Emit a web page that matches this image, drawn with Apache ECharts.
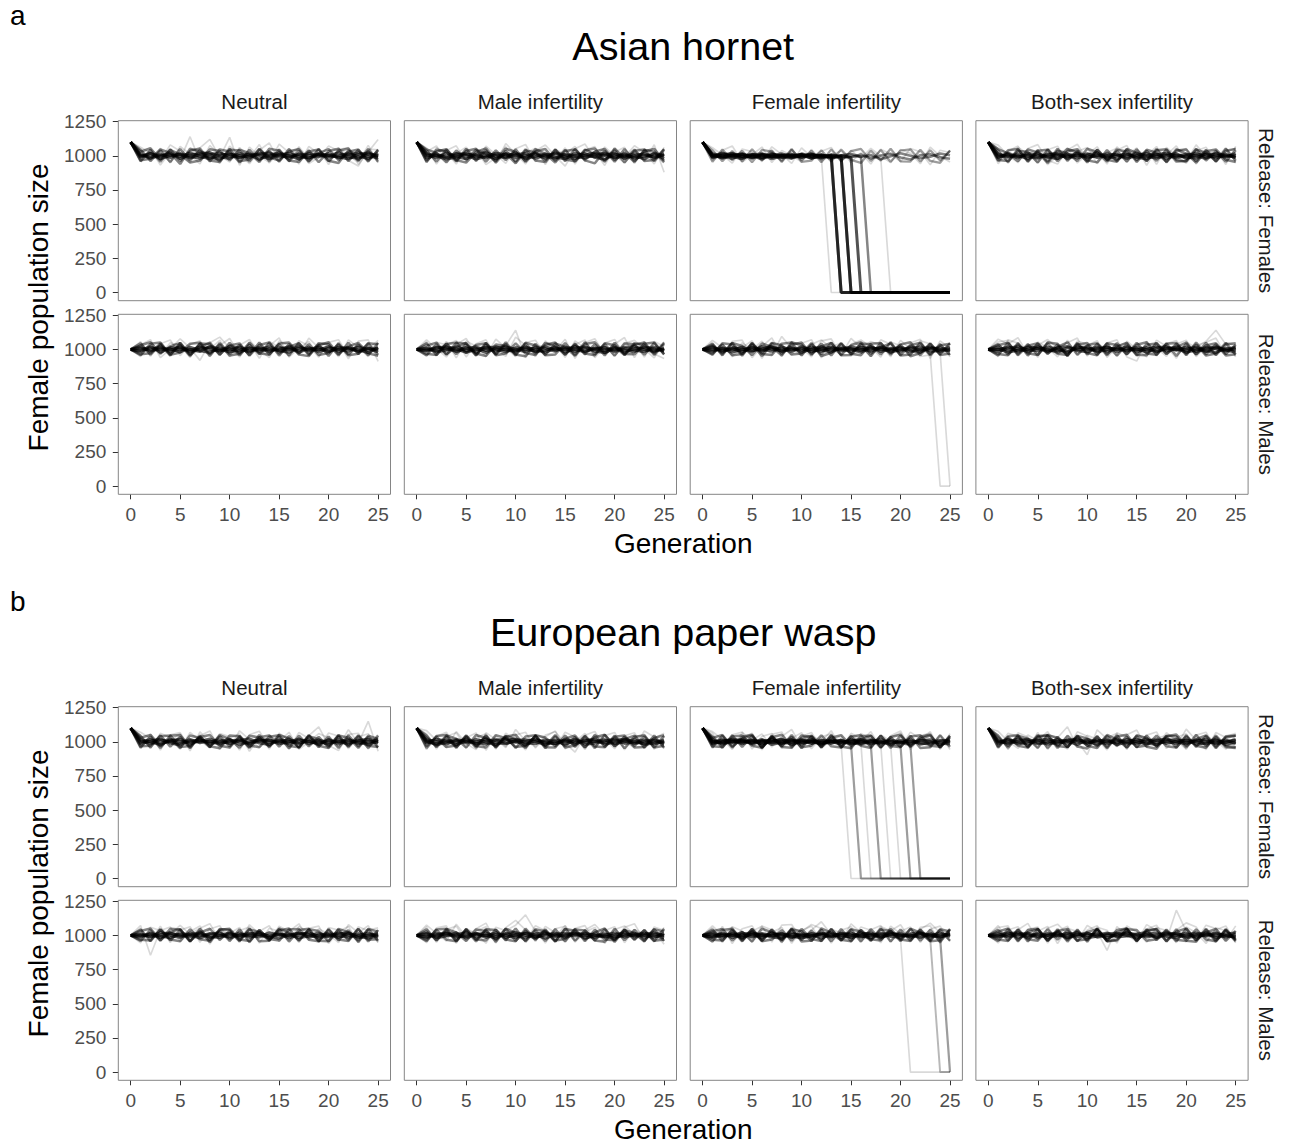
<!DOCTYPE html>
<html><head><meta charset="utf-8">
<script src="https://cdn.jsdelivr.net/npm/echarts@6/dist/echarts.min.js"></script>
<style>html,body{margin:0;padding:0;background:#fff;}#chart{width:1289px;height:1143px;}</style>
</head><body><div id="chart"></div>
<script>
// ---------- labels & ticks ----------
const GENERATIONS = [0,1,2,3,4,5,6,7,8,9,10,11,12,13,14,15,16,17,18,19,20,21,22,23,24,25];
const X_TICKS = [0,5,10,15,20,25];
const Y_TICKS = [0,250,500,750,1000,1250];
const X_RANGE = [-1.25, 26.25];
const Y_RANGE = [-60, 1257];
const PART_LETTERS = ['a','b'];
const SPECIES = ['Asian hornet','European paper wasp'];
const TREATMENTS = ['Neutral','Male infertility','Female infertility','Both-sex infertility'];
const RELEASES = ['Release: Females','Release: Males'];
const X_TITLE = 'Generation';
const Y_TITLE = 'Female population size';

// ---------- data: each trace = female population per generation; runs = number of simulation runs it stands for ----------
// Asian hornet
const hornetNeutralFemales = [
[1100,1004,992,1011,987,1016,995,982,1008,1021,996,989,1013,1002,978,1006,1019,994,985,1010,998,1024,991,983,1012,1001],
[1100,988,1015,996,1022,979,1007,1018,990,975,1012,1003,986,1020,997,1009,981,1014,1005,992,1017,984,1008,1023,995,987],
[1100,1012,983,1002,1009,994,1021,997,979,1005,1016,985,999,1011,1023,990,1002,976,1018,1006,989,1003,1015,996,980,1019],
[1100,995,1020,978,1001,1013,984,1010,1024,993,981,1018,1007,976,1004,1021,995,1008,983,1015,1002,993,977,1010,1021,994],
[1100,1040,962,1055,948,1068,1012,941,1074,1003,955,1061,986,1082,947,1030,958,1066,975,1049,936,1058,1001,954,1077,948],
[1100,958,1049,933,1027,972,1140,961,1035,944,1070,1008,942,1041,1095,963,1052,940,1068,1015,957,1046,1060,937,1029,1120],
[1100,1062,1021,970,1080,1034,952,1058,1120,988,1135,931,1064,996,952,1085,1023,1057,944,990,1072,1035,966,925,1050,1043],
[1100,1045,962,1038,955,1050,968,1041,959,1047,1032,952,1044,965,1036,957,1049,970,1040,953,1035,1052,961,1043,958,1046],
[1100,960,1042,957,1048,962,1037,1053,966,955,1044,1039,958,1051,963,1045,960,1038,956,1050,964,947,1041,962,1049,957],
[1100,1030,1055,971,1043,1009,951,965,1048,1036,967,1045,1020,954,1052,1038,966,955,1032,1046,960,1037,1054,969,1033,972],
[1100,968,978,1046,1021,940,1052,1030,1014,962,1051,960,973,1047,990,965,1033,1048,962,1020,1049,968,1030,1046,964,1039]];
const hornetNeutralFemalesRuns = [6,6,6,6,1,1,1,4,4,4,4];

const hornetMaleInfFemales = [
[1100,997,1014,985,1008,1019,991,1003,980,1016,1005,988,1021,996,983,1010,1002,1017,989,975,1011,1000,992,1018,986,1007],
[1100,1010,986,1020,993,978,1012,1024,997,985,1009,1018,982,1005,1015,992,979,1006,1020,1003,990,1014,983,996,1012,979],
[1100,983,1005,996,1017,1002,976,994,1019,1008,987,1001,1013,981,1022,1004,995,984,1010,1021,985,997,1016,1005,991,1015],
[1100,1018,999,977,990,1011,1005,985,1009,992,1023,978,996,1014,990,979,1019,1000,993,1008,1017,982,1003,976,1020,998],
[1100,951,1060,1022,940,1047,962,1071,1008,945,1052,1083,957,1030,969,1058,940,1043,1067,951,1026,1062,944,1049,969,1035],
[1100,1058,940,1039,1073,956,1044,936,985,1066,948,1022,1055,937,1047,1012,1069,958,1031,930,1058,991,1074,1025,941,1062],
[1100,1030,1072,955,1018,1063,989,1048,950,1090,1012,940,1038,1079,998,925,1051,1086,977,1064,1003,948,1040,960,1081,880],
[1100,1038,958,1046,964,1035,1051,957,1040,969,1048,955,1033,1050,962,1044,958,1039,1053,966,1041,952,1037,1047,960,1045],
[1100,955,1044,1031,959,1052,963,1040,949,1036,958,1047,966,954,1043,961,1050,967,945,1038,957,1049,962,1034,1051,963],
[1100,1047,1021,952,1039,972,1045,1012,961,1053,1028,962,1049,1015,951,1036,1047,973,1032,1050,968,1024,955,1042,1030,952],
[1100,965,1032,1049,970,950,1028,1055,972,1018,945,1039,1026,964,1048,973,960,1045,1011,958,1053,976,1046,963,970,1050]];
const hornetMaleInfFemalesRuns = [6,6,6,6,1,1,1,4,4,4,4];

const hornetFemInfFemales = [
[1100,1002,990,1015,984,1009,998,1020,987,1004,1011,992,983,1007,996,989,1010,981,1002,1016,988,973,1005,1012,990,978],
[1100,989,1017,998,1010,980,1013,993,1006,982,996,1008,1001,978,1004,1014,993,1006,975,997,1019,1001,984,993,1017,1004],
[1100,1060,1006,947,1050,1031,958,1066,1010,945,1058,990,1033,1061,960,1040,981,1055,999,950,1046,1018,942,1063,997,955],
[1100,965,1040,1072,955,1008,1064,951,1039,1003,955,1047,962,1004,1037,952,1022,940,1048,1013,957,1054,1030,935,1041,1023],
[1100,1042,960,1036,958,1049,966,1040,955,1044,967,1038,953,1047,961,1035,1051,962,1043,956,1039,1048,959,1041,966,1037],
[1100,957,1046,968,1037,952,1043,1031,962,1050,956,965,1041,959,1046,970,948,1038,965,1052,960,958,1044,963,949,1040],
[1100,995,1012,987,1003,1018,990,1006,982,1011,997,1004,989,0,0,0,0,0,0,0,0,0,0,0,0,0],
[1100,1003,985,1008,996,1012,987,1001,1015,992,1006,983,1000,994,0,0,0,0,0,0,0,0,0,0,0,0],
[1100,1016,999,981,1010,990,1005,978,1000,1013,988,1009,997,1002,0,0,0,0,0,0,0,0,0,0,0,0],
[1100,986,1007,1019,992,1001,976,1012,994,983,1015,998,1008,985,996,0,0,0,0,0,0,0,0,0,0,0],
[1100,1008,994,1003,1014,985,1010,997,988,1006,991,1017,982,1009,990,0,0,0,0,0,0,0,0,0,0,0],
[1100,992,1021,995,979,1007,1016,989,1004,998,1010,981,1006,993,1002,987,0,0,0,0,0,0,0,0,0,0],
[1100,1011,980,1004,1018,996,984,1013,1001,990,1003,1012,988,1005,979,1001,992,0,0,0,0,0,0,0,0,0],
[1100,979,1003,1016,990,1009,1002,983,1012,1005,980,994,1011,986,1003,1015,990,998,984,0,0,0,0,0,0,0]];
const hornetFemInfFemalesRuns = [4,4,1,1,3,3,1,6,6,6,6,7,4,1];

const hornetBothInfFemales = [
[1100,1006,989,1013,997,982,1015,1003,991,1019,986,1008,995,1011,980,1004,1017,993,1009,984,1002,1020,989,997,1013,985],
[1100,991,1011,984,1019,1005,993,979,1012,998,1016,987,1003,975,1010,994,1001,1014,980,1006,991,983,1015,1008,990,1017],
[1100,1014,996,1001,980,1017,988,1010,1002,984,1007,1020,982,999,1015,987,978,1008,1019,995,1012,999,981,1021,996,1003],
[1100,985,1020,993,1008,990,1006,1021,979,1009,992,998,1016,1005,989,1019,996,983,1001,1017,979,1006,1010,986,1004,992],
[1100,1052,945,1063,1012,950,1045,1070,958,1032,1061,943,1024,1056,952,1039,1003,1068,947,1028,1054,940,1046,977,1060,951],
[1100,942,1034,1071,961,1040,935,1002,1058,948,1010,1066,959,1040,1075,955,1047,938,1062,1000,946,1037,1063,955,1026,1058],
[1100,1078,1003,950,1054,1082,968,940,1043,1085,973,1027,940,1066,1001,1058,931,1049,1007,1072,961,1080,993,1045,937,1069],
[1100,1036,955,1048,962,1041,957,1052,965,1038,951,1045,969,1034,958,1047,963,1050,954,1039,1046,960,1043,957,1051,964],
[1100,962,1040,1050,956,1037,1045,961,1033,1049,967,952,1042,960,1048,955,1036,964,1044,958,962,1051,966,1035,958,1042],
[1100,1049,1018,961,1046,1025,948,1038,1019,963,1052,1027,958,1045,1031,969,1044,1022,957,1048,1016,950,1033,1047,972,955],
[1100,970,962,1035,1029,951,1047,975,1050,1024,960,1043,972,956,1050,1021,962,1040,1049,970,958,1045,1023,961,1038,1050]];
const hornetBothInfFemalesRuns = [6,6,6,6,1,1,1,4,4,4,4];

const hornetNeutralMales = [
[1000,1018,986,1009,995,1021,982,1004,1015,990,1007,979,1012,998,1020,987,1005,993,1016,981,1010,1001,987,1019,994,1008],
[1000,984,1013,997,1006,980,1016,991,978,1011,996,1019,987,1008,983,1014,999,1022,990,1005,982,1017,1004,989,1012,980],
[1000,1009,994,1020,983,1001,993,1018,1000,986,1022,1005,981,1017,993,1002,1019,979,1007,996,1021,985,1011,998,976,1015],
[1000,993,1021,979,1014,1008,1000,985,1023,1002,981,994,1010,986,1006,991,979,1012,998,1019,987,1004,1016,981,1009,995],
[1000,1057,950,1041,1069,955,1036,1064,947,1029,1080,962,1044,935,1058,1016,950,1063,1027,944,1052,1071,956,1038,1002,1066],
[1000,948,1038,962,1048,1027,941,1055,1002,1067,947,1031,1073,960,1026,1084,943,1009,1058,951,1033,946,1069,1015,948,1040],
[1000,1035,1071,940,1002,1078,1011,920,1049,1090,1010,945,1057,1003,940,1062,1029,962,1083,1011,966,1048,932,1061,1070,912],
[1000,1044,961,1037,955,1048,964,1040,953,1046,967,1035,959,1050,962,1041,956,1047,968,1038,952,1045,963,1036,957,1049],
[1000,958,1041,1050,963,1036,952,1044,1039,960,1048,957,1035,966,1047,955,1040,962,951,1046,1037,958,1049,965,1042,960],
[1000,1030,1052,970,1024,1046,957,1017,1050,963,1028,1044,954,1033,1051,969,1019,1045,958,1030,1053,966,1022,1048,971,954],
[1000,965,972,1045,960,978,1041,1049,966,1037,955,968,1048,972,961,1043,1050,970,1039,959,973,1036,957,968,1046,1038]];
const hornetNeutralMalesRuns = [6,6,6,6,1,1,1,4,4,4,4];

const hornetMaleInfMales = [
[1000,1011,990,1015,983,1006,1019,992,1003,980,1014,1000,988,1021,995,1007,984,1013,1002,990,1018,979,1006,1012,991,1004],
[1000,988,1017,1001,993,1014,981,1009,1020,995,986,1012,1004,979,1010,997,1022,988,1005,1015,984,1008,996,983,1017,992],
[1000,1005,983,994,1020,989,1008,976,1012,1018,1001,983,1015,1006,987,1019,999,982,1011,1003,993,1016,1021,998,984,1010],
[1000,994,1009,1022,1002,978,999,1016,988,1004,992,1021,982,993,1016,980,1008,1020,986,977,1007,994,983,1019,1006,987],
[1000,1046,962,1058,939,1061,1023,950,1075,1012,948,1051,1067,957,1034,943,1062,1010,952,1046,1073,960,1039,945,1058,1021],
[1000,956,1052,1034,1066,945,1041,1070,958,1029,1140,940,1031,1020,1048,962,1036,1069,940,1025,951,1044,1066,1003,939,1055],
[1000,1070,1002,945,1037,1080,963,1044,1002,950,1090,1030,947,1062,990,1074,935,1051,1078,964,1040,1087,940,1058,967,934],
[1000,1047,958,1042,966,1036,955,1049,961,1040,957,1045,968,1034,1051,959,1043,964,1038,956,1048,962,1035,1050,960,1041],
[1000,956,1038,961,1049,1043,958,1035,967,1052,962,950,1041,957,963,1046,960,1053,965,1039,955,1044,1037,961,1047,963],
[1000,1028,1050,965,1018,1047,970,952,1036,1025,966,1049,1029,961,1043,1018,954,1040,1052,971,1020,958,1046,1033,969,1050],
[1000,968,960,1040,1049,972,1033,1046,958,970,1044,973,959,1048,1024,963,1037,970,957,1045,1031,967,964,1042,1051,966]];
const hornetMaleInfMalesRuns = [6,6,6,6,1,1,1,4,4,4,4];

const hornetFemInfMales = [
[1000,1013,992,1007,981,1016,1000,986,1019,995,1010,983,1005,1018,991,1002,979,1014,997,1009,985,1020,993,1006,1011,988],
[1000,986,1010,995,1018,990,1004,1021,983,1008,993,1016,998,980,1013,1006,990,1022,984,1001,1017,995,980,1012,1000,1015],
[1000,1020,981,1014,1003,985,1022,1001,991,1017,978,1004,1019,993,1007,985,1016,1003,1011,980,997,1008,1019,987,993,1004],
[1000,995,1006,980,997,1011,988,1013,1005,984,1021,995,986,1010,999,1020,1002,987,1019,994,1008,981,1002,1018,985,996],
[1000,1049,955,1060,1068,940,1022,1085,950,1059,1012,946,1063,1077,952,1038,1069,1016,944,1055,1026,953,1063,1041,955,1049],
[1000,958,1043,947,1015,1063,935,1050,1027,961,1045,1071,939,1020,1046,953,1007,1058,1031,946,1066,1002,948,960,1037,947],
[1000,1066,1012,960,1048,998,1060,960,1095,1006,952,1037,1069,1005,960,1081,1012,951,1070,1038,962,1047,1074,935,1062,1010],
[1000,1041,957,1049,963,1038,952,1044,968,1035,1050,960,1043,956,1047,965,1039,951,1046,962,1037,1052,958,1040,966,1045],
[1000,961,1045,1036,954,1048,966,959,1042,1051,957,1038,964,1049,958,960,1044,1037,963,1053,955,962,1046,957,1039,959],
[1000,1032,968,1047,1025,958,1043,1019,955,1050,1034,967,1021,1048,960,1030,1052,969,1016,1044,958,1031,1049,966,1028,1042],
[1000,970,1036,958,966,1045,973,1048,1030,962,970,1046,952,975,1040,968,957,1042,1047,971,1035,950,973,1045,960,971],
[1000,1004,991,1012,998,985,1009,1017,994,1003,988,1011,996,1007,983,1014,1000,992,1008,995,1016,987,1002,962,0,0],
[1000,992,1015,1001,987,1010,996,1006,982,1013,1001,990,1017,985,1004,998,1012,980,1009,1003,991,1015,996,988,978,0]];
const hornetFemInfMalesRuns = [6,6,6,6,1,1,1,4,4,4,4,1,1];

const hornetBothInfMales = [
[1000,1016,993,1008,985,1012,1001,979,1014,997,1006,990,1020,982,1009,996,1015,987,1003,1018,991,1007,985,1012,999,1016],
[1000,984,1011,1020,996,990,1017,1003,986,1010,1019,981,1000,1013,988,1006,979,1010,1021,993,1004,1017,990,978,1009,993],
[1000,1004,979,995,1017,1006,984,1012,1022,990,983,1008,1015,997,1021,983,1002,1019,989,1005,980,995,1014,1005,988,1011],
[1000,997,1019,986,1003,1021,992,996,978,1018,1002,1014,986,1006,993,1017,998,983,1012,1000,1016,984,1007,1020,994,981],
[1000,1054,1066,952,1040,943,1058,1029,950,1062,1037,955,1048,1070,945,915,1060,952,1041,1065,958,1030,1052,1083,960,1042],
[1000,948,1070,1046,957,1055,1012,945,1068,960,1031,1064,942,1021,1052,964,1047,1011,950,1039,1067,947,1028,956,1048,1030],
[1000,1075,1040,1086,965,1031,1072,1007,1049,1083,952,1041,1004,955,1060,1002,945,1068,1023,935,1055,1012,1060,1140,1037,946],
[1000,1039,962,1047,955,1043,968,1036,951,1049,963,1041,957,1046,966,1034,1052,960,1044,953,1040,965,1048,958,1037,1045],
[1000,957,1046,968,1038,960,1050,1041,956,1035,1047,962,1043,954,1039,961,958,1048,966,1042,957,1051,963,1039,956,964],
[1000,1031,1049,958,1027,1045,970,1018,1052,961,1030,1046,967,1022,1048,955,1034,1043,969,1017,1050,962,1029,1045,966,1033],
[1000,966,958,1038,972,960,1044,968,959,1040,974,957,1046,1033,963,1049,970,961,1041,1047,968,1036,955,970,1048,962]];
const hornetBothInfMalesRuns = [6,6,6,6,1,1,1,4,4,4,4];

// European paper wasp
const waspNeutralFemales = [
[1100,1009,985,1014,1000,988,1017,993,1006,981,1012,1003,990,1019,995,1008,983,1015,1001,989,1010,996,1020,985,1007,992],
[1100,994,1018,989,1006,1021,983,1011,997,1015,986,1009,1022,991,980,1013,1004,987,1018,1002,981,1016,993,1009,1019,1005],
[1100,1017,998,980,1015,1004,996,1020,984,1003,1018,979,1001,1011,1016,985,998,1021,984,1012,995,1004,982,1014,991,1017],
[1100,985,1006,1019,991,977,1009,1001,1021,990,999,1016,985,1005,1010,996,1018,992,1007,979,1019,983,1010,997,980,1003],
[1100,1048,952,1062,1031,946,1068,1011,954,1060,1039,940,1052,1077,962,1041,949,1068,1025,958,1065,1042,950,1036,1059,960],
[1100,955,1058,940,1051,1067,953,1044,1080,944,1026,1057,931,1037,948,1063,1012,957,1046,1110,973,937,1055,1063,947,1040],
[1100,1070,1025,965,1012,1058,934,1073,990,1035,954,1081,1016,960,1048,1002,1070,946,998,1060,1030,962,1089,990,1150,931],
[1100,1043,959,1048,965,1037,954,1046,961,1041,968,1034,956,1050,963,1039,952,1045,967,1036,958,1049,962,1042,955,1047],
[1100,958,1039,956,1045,1050,962,1037,968,953,1046,1040,959,1033,1047,964,1042,957,1050,961,1038,955,1048,966,1036,960],
[1100,1030,1051,968,1024,955,1046,1028,962,1049,1020,957,1044,1032,966,1051,1025,958,1041,1019,969,1047,1030,956,1044,1021],
[1100,967,972,1041,1047,962,970,1036,1050,971,958,1043,973,961,1037,1048,969,960,1045,972,955,1040,967,1048,971,962]];
const waspNeutralFemalesRuns = [6,6,6,6,1,1,1,4,4,4,4];

const waspMaleInfFemales = [
[1100,1001,988,1013,995,1019,984,1007,1016,990,1003,979,1011,1000,985,1017,994,1008,1021,983,996,1012,987,1004,1015,990],
[1100,1015,1003,984,1010,991,1018,997,979,1012,1021,993,986,1014,1004,981,1009,996,1002,1016,985,1000,1018,980,993,1011],
[1100,990,1019,1005,980,1008,1000,1020,993,985,1011,1016,1002,978,1012,1000,1020,983,990,1007,1019,988,1001,1013,984,1004],
[1100,1006,979,996,1017,1002,992,983,1011,1020,996,1004,1019,991,987,1010,982,1014,1006,993,1010,1021,996,987,1010,983],
[1100,1059,948,1041,1066,955,1032,1058,947,1063,1014,941,1052,1026,958,1070,1035,944,1056,1019,950,1044,1066,953,1028,1062],
[1100,943,1040,1070,960,1029,1065,939,1044,965,1051,1070,955,1036,1080,948,1002,1061,961,1045,1068,942,1031,1055,946,1037],
[1100,1082,1010,958,1075,987,943,1066,1018,958,1090,1006,963,1050,1074,990,925,1048,1076,962,1038,1002,958,1079,1035,950],
[1100,1046,961,1039,955,1048,966,1042,958,1037,1051,963,1044,954,1040,967,1035,957,1049,962,1045,953,1038,1047,960,1043],
[1100,956,1043,1050,962,1036,957,1047,965,1041,955,1039,1048,960,958,1045,963,1040,954,1051,967,1037,959,962,1046,957],
[1100,1032,968,1046,1023,958,1050,1027,964,1043,1018,955,1048,1031,969,1022,1046,961,1034,1052,968,1020,1045,957,1029,1048],
[1100,969,1038,962,973,1044,970,958,1049,1026,962,972,1041,968,1050,959,973,1043,966,960,1037,1046,971,1039,958,972]];
const waspMaleInfFemalesRuns = [6,6,6,6,1,1,1,4,4,4,4];

const waspFemInfFemales = [
[1100,1004,991,1016,985,1008,999,1020,987,1011,994,1003,982,1015,997,1006,1018,989,1001,980,1012,995,1008,1016,990,984],
[1100,990,1013,998,1020,982,1010,993,1005,1017,981,1009,996,989,1013,984,1002,1016,993,1005,988,1019,983,996,1011,998],
[1100,1018,982,1005,997,1015,986,1002,1021,978,1006,1017,990,1004,981,1019,990,1003,1017,992,1001,984,1013,1002,978,1007],
[1100,983,1002,1020,1008,993,1018,980,996,1000,1016,988,1011,1000,1008,995,982,1011,985,1016,996,1006,991,983,1004,1014],
[1100,1063,958,1051,1072,947,1040,1061,953,1027,1066,949,1036,1058,961,1048,1004,1074,955,1031,1064,959,1045,1062,951,1038],
[1100,952,1044,962,1030,1063,941,1055,1072,950,1039,1068,957,1012,1041,946,1062,1018,950,1044,1080,945,1030,957,1049,944],
[1100,1075,1020,945,1069,1011,1058,963,1040,1090,965,1046,1002,1081,950,1062,1023,975,1050,1006,961,1071,1020,1074,945,1060],
[1100,1040,956,1047,962,1043,959,1036,967,1049,954,1041,965,1045,958,1038,1050,961,1044,955,1046,963,1037,1051,957,1042],
[1100,960,1045,958,1038,1051,956,1042,963,957,1047,1036,961,1049,966,953,1040,1046,959,1037,962,1044,955,960,1048,963],
[1100,1029,1050,966,1021,1047,958,1033,1052,964,1026,1045,957,1030,1049,968,1018,1043,960,1035,1051,967,1023,1046,961,1031],
[1100,968,962,1039,1046,971,957,1044,970,1037,960,972,1048,967,958,1042,971,955,1046,970,961,1039,1048,972,964,1045],
[1100,997,1010,985,1006,1018,992,1001,983,1014,1003,989,1008,995,980,0,0,0,0,0,0,0,0,0,0,0],
[1100,1008,986,1003,1014,990,1005,1019,994,982,1011,999,1016,987,1002,978,0,0,0,0,0,0,0,0,0,0],
[1100,992,1017,1006,989,1002,1013,985,1009,998,1020,983,996,1010,1004,991,985,0,0,0,0,0,0,0,0,0],
[1100,1012,995,988,1010,1003,981,1008,1017,992,1000,1014,985,1007,993,1016,999,975,0,0,0,0,0,0,0,0],
[1100,985,1006,1015,996,1009,990,1013,1002,987,1018,1001,992,1011,983,1005,1016,994,982,0,0,0,0,0,0,0],
[1100,1015,990,1001,983,1016,1004,993,1011,1006,985,997,1019,990,1008,996,982,1013,1000,978,0,0,0,0,0,0],
[1100,1000,1019,992,1005,985,1012,1003,989,1016,994,1008,981,1002,1015,988,1007,993,1010,986,968,0,0,0,0,0],
[1100,989,1003,1014,997,1011,982,1006,1020,995,1009,986,1004,1017,992,1001,1012,983,998,1008,991,975,0,0,0,0]];
const waspFemInfFemalesRuns = [6,6,6,6,1,1,1,4,4,4,4,1,3,1,3,1,1,3,3];

const waspBothInfFemales = [
[1100,1011,987,1004,1019,992,1008,981,1015,1000,989,1013,996,1021,984,1006,1017,993,1002,988,1014,1000,983,1010,995,1018],
[1100,986,1014,997,983,1010,1020,1001,990,1012,1005,979,1009,992,1018,997,985,1011,1020,999,986,1015,1004,991,1013,988],
[1100,1003,995,1021,1006,985,994,1016,1003,980,1018,1001,986,1008,1001,1019,992,980,1009,1017,994,1006,1019,984,1002,1009],
[1100,995,1020,983,1001,1016,982,999,1011,1021,993,1005,1016,980,996,988,1008,1016,987,1005,1012,983,994,1017,980,997],
[1100,1051,944,1066,1035,950,1059,1020,946,1073,1041,958,1028,1062,944,1053,1030,962,1067,1010,945,1049,1070,956,1038,1063],
[1100,958,1062,1040,950,1069,945,1030,1110,961,1047,1018,941,1066,1033,955,1049,1072,951,1034,1058,964,1041,1002,946,1054],
[1100,1077,1003,952,1050,1008,1075,960,1048,1002,905,1088,1022,965,1052,1086,958,1027,1045,969,1093,1012,943,1068,1031,960],
[1100,1044,958,1040,964,1049,955,1037,961,1046,968,1042,953,1039,1051,960,1045,966,1035,957,1048,962,1043,954,1040,1047],
[1100,957,1041,1049,960,1035,1046,956,1043,965,952,1038,962,1047,957,1042,964,950,1044,1039,958,1051,966,1036,961,955],
[1100,1031,969,1045,1022,956,1049,1030,962,1043,1024,968,1050,1017,959,1046,1028,965,1041,1053,970,1019,1047,963,1032,1044],
[1100,966,1036,971,958,1043,1048,969,960,1039,972,955,1044,970,1037,962,973,1046,968,959,1040,971,957,1045,969,961]];
const waspBothInfFemalesRuns = [6,6,6,6,1,1,1,4,4,4,4];

const waspNeutralMales = [
[1000,1013,988,1006,1019,993,1002,980,1015,1001,990,1018,985,1008,997,1014,982,1005,1019,992,1007,984,1013,999,1016,989],
[1000,987,1016,995,982,1012,1006,1020,991,985,1011,998,1017,1003,983,1009,995,1020,987,1003,1015,996,986,1012,993,1007],
[1000,1005,993,1021,1000,984,1017,995,1008,1019,979,1006,998,988,1020,1002,1012,983,996,1018,990,1010,1020,983,1004,1015],
[1000,996,1010,983,1013,1005,990,1011,984,1002,1016,986,1009,1021,992,980,1004,1015,1008,981,997,1019,1001,990,981,998],
[1000,1050,957,1068,948,1039,1064,950,1047,1071,955,1036,1061,944,1052,1030,962,1066,1022,950,1057,1040,955,1063,1034,948],
[1000,946,1060,1035,1062,955,1028,1069,937,1041,1016,1058,947,1031,1071,956,1044,948,1052,1068,941,1029,1065,947,1040,1055],
[1000,1072,855,1040,1012,1074,1008,1052,1086,962,1043,950,1078,1010,958,1067,1031,1085,965,1049,1010,947,1078,1020,1071,950],
[1000,1042,957,1046,963,1039,954,1048,966,1035,960,1044,952,1041,967,1037,1050,959,1043,956,1047,964,1038,953,1045,961],
[1000,960,1038,962,1049,1044,958,1035,951,1047,1040,963,1050,957,961,1046,955,1039,1048,962,958,1043,967,1049,956,1040],
[1000,1033,1050,964,1025,1046,959,1020,1049,968,1031,957,1044,1026,962,1051,1019,966,1045,1032,956,1048,1024,963,1047,1028],
[1000,968,963,1040,970,958,1045,972,961,1042,1048,970,959,1038,973,962,1044,1047,969,957,1041,970,960,1046,968,972]];
const waspNeutralMalesRuns = [6,6,6,6,1,1,1,4,4,4,4];

const waspMaleInfMales = [
[1000,1008,991,1017,986,1004,1013,995,1020,983,1006,1015,990,1002,1018,984,1009,997,1012,987,1005,1020,993,1001,985,1014],
[1000,990,1014,1001,1019,980,1008,1016,991,1011,997,985,1010,1019,989,1006,1016,981,996,1013,990,998,1017,985,1010,996],
[1000,1017,983,996,1007,1020,989,1003,979,1014,1021,1000,985,1012,1001,993,1019,1007,984,1003,1018,987,1006,1016,996,983],
[1000,985,1005,1020,996,990,1016,984,1009,998,983,1019,1004,979,1008,1016,995,1017,1001,992,980,1011,1000,1009,1019,1002],
[1000,1061,950,1043,1068,958,1032,1064,945,1057,1110,1040,955,1066,1021,948,1052,1072,958,1036,1063,947,1044,1012,956,1058],
[1000,947,1055,1070,942,1050,1011,943,1060,1035,1075,1150,1030,945,1049,1067,951,1026,1058,941,1043,1069,1010,950,1062,1037],
[1000,1076,1015,958,1082,990,1049,1090,960,1030,1006,958,1071,1035,990,1072,962,1039,1080,1003,965,1060,1086,962,1030,935],
[1000,1045,962,1038,956,1047,965,1041,953,1049,960,1036,967,1044,955,1050,961,1037,964,1046,952,1042,968,1039,957,1048],
[1000,958,1044,1049,961,1037,956,1046,1040,963,1051,955,1039,960,1047,958,1043,1036,962,954,1048,966,1041,960,1045,959],
[1000,1030,966,1048,1021,959,1044,1033,967,1050,1019,961,1045,1029,955,1047,1034,969,1022,1051,963,1038,1018,958,1046,1027],
[1000,967,1041,969,958,1046,972,963,1043,970,957,1049,971,1036,962,973,1047,958,1040,970,964,1044,972,1038,961,970]];
const waspMaleInfMalesRuns = [6,6,6,6,1,1,1,4,4,4,4];

const waspFemInfMales = [
[1000,1010,986,1015,997,1005,982,1019,993,1008,1001,987,1016,994,1011,983,1006,1019,990,1003,1014,985,1009,996,1018,991],
[1000,991,1017,983,1009,1020,996,1002,1014,985,1012,1004,981,1010,998,1019,988,1001,1015,992,986,1012,1020,989,1003,1010],
[1000,1018,999,1006,985,1012,1008,988,980,1020,993,1015,1003,986,1018,1004,995,983,1009,1020,997,1003,984,1014,990,1005],
[1000,984,1005,999,1021,988,1014,996,1010,994,981,996,1009,1020,984,996,1016,1008,983,1011,1005,993,1016,1003,985,1017],
[1000,1055,948,1063,1032,951,1069,1040,946,1058,1027,1080,1050,944,1037,1063,955,1041,1072,952,1030,1061,949,1047,1068,956],
[1000,952,1066,941,1049,1070,960,1023,1058,943,1036,1068,956,1044,1020,951,1062,1038,946,1067,1013,958,1060,1070,943,1048],
[1000,1070,1002,1060,955,1030,1068,952,1075,1080,965,1038,1100,1006,960,1085,1020,958,1065,1034,1078,968,1044,1090,1020,962],
[1000,1043,960,1037,957,1048,963,1040,954,1045,966,1036,959,1049,962,1042,955,1046,968,1034,958,1047,961,1041,953,1044],
[1000,956,1040,1048,963,1035,958,1045,967,1050,955,962,1041,957,1046,960,1038,965,1050,956,1043,962,1039,958,964,1047],
[1000,1031,1047,963,1026,955,1049,1022,966,1044,1030,958,1051,1018,964,1046,1027,960,1043,1033,967,1049,1020,957,1045,1029],
[1000,969,962,1042,971,1046,958,970,1039,962,1047,973,960,1044,969,957,1041,972,963,1048,970,959,1045,968,1040,961],
[1000,996,1012,989,1005,1017,991,1008,984,1013,1001,993,1010,986,1004,1018,995,1007,983,1011,972,0,0,0,0,0],
[1000,1007,990,1014,998,985,1011,1002,1019,993,987,1009,1016,995,1003,981,1012,1000,991,1015,1006,988,1010,975,0,0],
[1000,989,1014,1003,985,1010,995,1018,1004,982,1008,999,1013,990,1016,1006,984,1011,998,1020,993,1005,987,1012,980,0]];
const waspFemInfMalesRuns = [6,6,6,6,1,1,1,4,4,4,4,1,2,3];

const waspBothInfMales = [
[1000,1014,989,1006,1018,992,1003,1020,985,1009,997,1015,982,1007,1019,994,1002,988,1013,1000,1017,986,1010,995,1008,1019],
[1000,987,1012,1020,994,1008,985,1000,1016,990,1013,1003,1018,989,996,1010,1021,983,1004,1016,991,1007,1019,984,997,990],
[1000,1003,1020,985,1011,980,1016,996,1005,1021,983,994,1010,1017,1000,982,1009,1019,991,985,1004,1018,993,1013,1002,984],
[1000,994,997,1013,982,1017,1000,1011,981,1002,1019,987,1001,995,1021,1006,988,1004,1020,1009,983,996,1001,1020,986,1008],
[1000,1058,1070,950,1044,1062,945,1033,1067,953,1040,1071,958,1029,1055,947,1046,1075,962,1038,1092,1062,955,1041,1069,951],
[1000,945,1040,1064,957,1031,1065,940,1052,1028,955,1060,1038,944,1069,1025,950,1058,1035,947,1062,1020,941,1056,1034,946],
[1000,1072,958,1041,1088,965,1052,1082,1012,959,1073,1028,890,1064,1004,955,1079,1035,966,1185,1030,960,1075,1050,962,1070],
[1000,1040,963,1045,956,1049,961,1037,966,1043,954,1047,960,1039,1051,958,1044,965,1036,957,1048,962,1041,955,1046,964],
[1000,959,1046,958,1039,1048,962,1044,955,1036,965,1050,957,963,1042,960,1038,1047,956,1045,961,953,1049,964,1037,958],
[1000,1028,1051,967,1023,1044,960,1031,1048,958,1025,1046,969,1019,1050,963,1032,1045,957,1027,1052,966,1021,1047,960,1034],
[1000,970,959,1041,972,961,1045,970,1037,963,972,1043,958,970,1046,1039,961,972,1042,968,960,1044,971,958,1040,969]];
const waspBothInfMalesRuns = [6,6,6,6,1,1,1,4,4,4,4];

// ---------- panel table (part, facet row, facet column) ----------
const PANELS = [
  {part:0,row:0,col:0,traces:hornetNeutralFemales,runs:hornetNeutralFemalesRuns},
  {part:0,row:0,col:1,traces:hornetMaleInfFemales,runs:hornetMaleInfFemalesRuns},
  {part:0,row:0,col:2,traces:hornetFemInfFemales,runs:hornetFemInfFemalesRuns},
  {part:0,row:0,col:3,traces:hornetBothInfFemales,runs:hornetBothInfFemalesRuns},
  {part:0,row:1,col:0,traces:hornetNeutralMales,runs:hornetNeutralMalesRuns},
  {part:0,row:1,col:1,traces:hornetMaleInfMales,runs:hornetMaleInfMalesRuns},
  {part:0,row:1,col:2,traces:hornetFemInfMales,runs:hornetFemInfMalesRuns},
  {part:0,row:1,col:3,traces:hornetBothInfMales,runs:hornetBothInfMalesRuns},
  {part:1,row:0,col:0,traces:waspNeutralFemales,runs:waspNeutralFemalesRuns},
  {part:1,row:0,col:1,traces:waspMaleInfFemales,runs:waspMaleInfFemalesRuns},
  {part:1,row:0,col:2,traces:waspFemInfFemales,runs:waspFemInfFemalesRuns},
  {part:1,row:0,col:3,traces:waspBothInfFemales,runs:waspBothInfFemalesRuns},
  {part:1,row:1,col:0,traces:waspNeutralMales,runs:waspNeutralMalesRuns},
  {part:1,row:1,col:1,traces:waspMaleInfMales,runs:waspMaleInfMalesRuns},
  {part:1,row:1,col:2,traces:waspFemInfMales,runs:waspFemInfMalesRuns},
  {part:1,row:1,col:3,traces:waspBothInfMales,runs:waspBothInfMalesRuns}
];

// ---------- layout & style ----------
const FONT = '"Liberation Sans", Arial, Helvetica, sans-serif';
const COL_LEFT = [118.3, 404.3, 690.2, 975.9];
const PANEL_W = 272.2;
const ROW_TOP = [120.7, 314.3];
const PANEL_H = 180;
const PART_OFFSET = [0, 586];
const RUN_ALPHA = 0.15;

const grids = [], xAxes = [], yAxes = [], series = [], graphics = [];
const plain = v => String(v);

PANELS.forEach((p, i) => {
  const L = COL_LEFT[p.col];
  const T = ROW_TOP[p.row] + PART_OFFSET[p.part];
  grids.push({left: L, top: T, width: PANEL_W, height: PANEL_H, containLabel: false, outerBoundsMode: 'none'});
  xAxes.push({type: 'value', gridIndex: i, position: 'bottom', min: X_RANGE[0], max: X_RANGE[1],
    axisLine: {show: false, onZero: false}, splitLine: {show: false},
    axisTick: {show: p.row === 1, inside: false, customValues: X_TICKS, length: 5, lineStyle: {color: '#333', width: 1}},
    axisLabel: {show: p.row === 1, customValues: X_TICKS, formatter: plain, fontSize: 19,
                color: '#4d4d4d', fontFamily: FONT, margin: 11}});
  yAxes.push({type: 'value', gridIndex: i, position: 'left', min: Y_RANGE[0], max: Y_RANGE[1],
    axisLine: {show: false, onZero: false}, splitLine: {show: false},
    axisTick: {show: p.col === 0, inside: false, customValues: Y_TICKS, length: 5.5, lineStyle: {color: '#333', width: 1}},
    axisLabel: {show: p.col === 0, customValues: Y_TICKS, formatter: plain, fontSize: 19,
                color: '#4d4d4d', fontFamily: FONT, margin: 12}});
  graphics.push({type: 'rect', silent: true, z: 100,
    shape: {x: L, y: T, width: PANEL_W, height: PANEL_H},
    style: {fill: 'none', stroke: '#858585', lineWidth: 1}});
  p.traces.forEach((tr, k) => {
    const n = p.runs[k];
    series.push({type: 'line', xAxisIndex: i, yAxisIndex: i,
      data: tr.map((v, j) => [GENERATIONS[j], v]),
      showSymbol: false, symbol: 'none', clip: true, silent: true, animation: false,
      emphasis: {disabled: true},
      lineStyle: {color: '#000', width: Math.min(3, 1.4 + 0.28 * n), opacity: 1 - Math.pow(1 - RUN_ALPHA, n)}});
  });
});

function txt(text, x, y, size, color, align, rotation) {
  return {type: 'text', x: x, y: y, rotation: rotation || 0, silent: true, z: 100,
    style: {text: text, x: 0, y: 0, fontSize: size, fontFamily: FONT, fill: color,
            align: align, textAlign: align, verticalAlign: 'middle', textVerticalAlign: 'middle'}};
}

const plotCenterX = (COL_LEFT[0] + COL_LEFT[3] + PANEL_W) / 2;
[0, 1].forEach(part => {
  const off = PART_OFFSET[part];
  graphics.push(txt(PART_LETTERS[part], 10, 15.5 + off, 28, '#000', 'left'));
  graphics.push(txt(SPECIES[part], plotCenterX, 46 + off, 39.5, '#000', 'center'));
  TREATMENTS.forEach((t, c) => graphics.push(txt(t, COL_LEFT[c] + PANEL_W / 2, 101 + off, 20.5, '#1a1a1a', 'center')));
  RELEASES.forEach((r, k) => graphics.push(txt(r, 1266, ROW_TOP[k] + PANEL_H / 2 + off, 20.5, '#1a1a1a', 'center', -Math.PI / 2)));
  graphics.push(txt(Y_TITLE, 38, (ROW_TOP[0] + ROW_TOP[1] + PANEL_H) / 2 + off, 28, '#000', 'center', Math.PI / 2));
  graphics.push(txt(X_TITLE, plotCenterX, 543 + off, 28, '#000', 'center'));
});

const chart = echarts.init(document.getElementById('chart'), null, {renderer: 'svg', width: 1289, height: 1143});
chart.setOption({
  backgroundColor: '#ffffff',
  animation: false,
  grid: grids, xAxis: xAxes, yAxis: yAxes, series: series,
  graphic: {elements: graphics}
});
</script>
</body></html>
